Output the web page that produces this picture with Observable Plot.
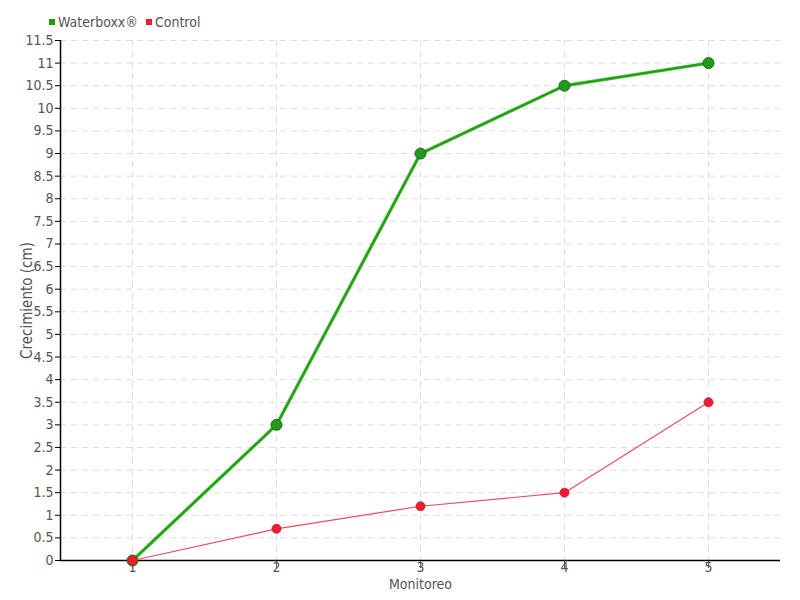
<!DOCTYPE html>
<html>
<head>
<meta charset="utf-8">
<script src="https://cdn.jsdelivr.net/npm/d3@7"></script>
<script src="https://cdn.jsdelivr.net/npm/@observablehq/plot@0.6"></script>
<style>
  html, body { margin: 0; padding: 0; background: #fff; }
  #wrap { position: relative; width: 800px; height: 600px; font-family: "DejaVu Sans Condensed", "DejaVu Sans", sans-serif; font-stretch: condensed; }
  #wrap svg, #wrap svg g, #wrap svg text { font-family: "DejaVu Sans Condensed", "DejaVu Sans", sans-serif !important; font-stretch: condensed !important; }
  #legend { position: absolute; left: 49px; top: 14px; font-size: 14px; color: #555; display: flex; gap: 8px; align-items: center; }
  #legend span.sw { display: inline-block; width: 6px; height: 6px; margin-right: 3px; vertical-align: middle; }
  #legend .item { display: flex; align-items: center; }
</style>
</head>
<body>
<div id="wrap"><div id="legend"></div></div>
<script>
const monitoreo = [1, 2, 3, 4, 5];
const waterboxx = [0, 3, 9, 10.5, 11];
const control = [0, 0.7, 1.2, 1.5, 3.5];
const seriesNames = ["Waterboxx®", "Control"];
const seriesColors = ["#1f9e14", "#ee1c2e"];
const yTicks = d3.range(0, 11.51, 0.5);

const wData = monitoreo.map((m, i) => ({x: m, y: waterboxx[i]}));
const cData = monitoreo.map((m, i) => ({x: m, y: control[i]}));

const fmt = d => d3.format("")(d);

const chart = Plot.plot({
  width: 800,
  height: 600,
  marginLeft: 60,
  marginRight: 20,
  marginTop: 40,
  marginBottom: 40,
  style: {fontSize: "14px", color: "#555", background: "#fff"},
  x: {domain: [0.5, 5.5]},
  y: {domain: [0, 11.5]},
  marks: [
    Plot.gridY(yTicks, {stroke: "#ddd", strokeOpacity: 1, strokeDasharray: "6,5"}),
    Plot.gridX(monitoreo, {stroke: "#ddd", strokeOpacity: 1, strokeDasharray: "6,5"}),
    Plot.axisY(yTicks, {tickSize: 5, tickPadding: 2, tickFormat: fmt, fill: "#555", stroke: "#000", label: null, fontSize: 14}),
    Plot.axisX(monitoreo, {tickSize: 8, tickPadding: -6.5, tickFormat: fmt, fill: "#555", stroke: "#666", label: null, fontSize: 14}),
    Plot.ruleX([0.5], {stroke: "#000", strokeWidth: 1.5}),
    Plot.ruleY([0], {stroke: "#000", strokeWidth: 1.5}),
    Plot.text(["Crecimiento (cm)"], {frameAnchor: "left", textAnchor: "middle", dx: -33, rotate: -90, fill: "#555", fontSize: 15}),
    Plot.text(["Monitoreo"], {frameAnchor: "bottom", lineAnchor: "top", dy: 18.5, fill: "#555", fontSize: 14}),
    Plot.line(wData, {x: "x", y: "y", stroke: "#62c552", strokeWidth: 3.5}),
    Plot.line(wData, {x: "x", y: "y", stroke: seriesColors[0], strokeWidth: 2}),
    Plot.dot(wData, {x: "x", y: "y", r: 5.5, fill: "#239a1e", stroke: "#1a6e14", strokeWidth: 1}),
    Plot.line(cData, {x: "x", y: "y", stroke: "#f04a5c", strokeWidth: 1.2}),
    Plot.dot(cData, {x: "x", y: "y", r: 4.5, fill: seriesColors[1], stroke: "#c8142a", strokeWidth: 0.8})
  ]
});
document.getElementById("wrap").appendChild(chart);
chart.style.position = "absolute";
chart.style.left = "0";
chart.style.top = "0";

const legend = document.getElementById("legend");
legend.style.zIndex = 2;
seriesNames.forEach((n, i) => {
  const it = document.createElement("div");
  it.className = "item";
  const sw = document.createElement("span");
  sw.className = "sw";
  sw.style.background = seriesColors[i];
  it.appendChild(sw);
  it.appendChild(document.createTextNode(n));
  legend.appendChild(it);
});
</script>
</body>
</html>
